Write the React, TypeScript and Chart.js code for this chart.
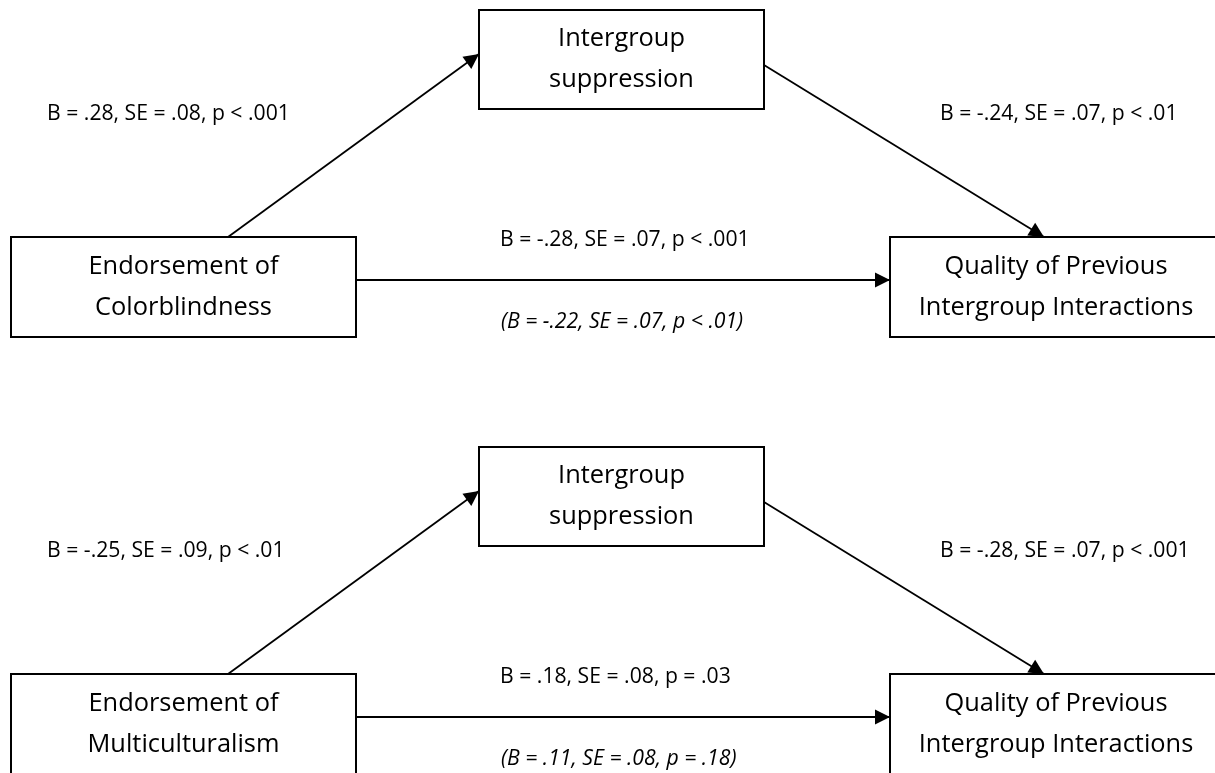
import React, { useEffect, useRef } from "react";
import { Chart, registerables } from "chart.js";

Chart.register(...registerables);

// ---- Diagram content (two mediation models) ----
const predictorNames = [
  ["Endorsement of", "Colorblindness"],
  ["Endorsement of", "Multiculturalism"],
];
const mediatorNames = [
  ["Intergroup", "suppression"],
  ["Intergroup", "suppression"],
];
const outcomeNames = [
  ["Quality of Previous", "Intergroup Interactions"],
  ["Quality of Previous", "Intergroup Interactions"],
];
const pathALabels = ["B = .28, SE = .08, p < .001", "B = -.25, SE = .09, p < .01"];
const pathBLabels = ["B = -.24, SE = .07, p < .01", "B = -.28, SE = .07, p < .001"];
const pathCLabels = ["B = -.28, SE = .07, p < .001", "B = .18, SE = .08, p = .03"];
const pathCPrimeLabels = ["(B = -.22, SE = .07, p < .01)", "(B = .11, SE = .08, p = .18)"];

// ---- Layout (diagram units, mapped through the chart scales) ----
const VIEW_W = 1215;
const VIEW_H = 773;
const panelOffset = [0, 437];
const boxPredictor = { x0: 11, x1: 356, y0: 237, y1: 337 };
const boxMediator = { x0: 479, x1: 764, y0: 10, y1: 109 };
const boxOutcome = { x0: 890, x1: 1222, y0: 237, y1: 337 };
const edgeA = { from: [228, 237], to: [479, 54] };
const edgeB = { from: [764, 65], to: [1044, 237] };
const edgeC = { from: [356, 280], to: [890, 280] };
const labelA = [47, 114];
const labelB = [940, 114];
const labelC = [500, 240];
const labelCPrime = [501, 322];

const FONT = '"Open Sans", "Noto Sans", sans-serif';
const BOX_FONT_SIZE = 25.4;
const LABEL_FONT_SIZE = 21.2;
const LINE_GAP = 20.5;

function rectPoints(b: { x0: number; x1: number; y0: number; y1: number }, dy: number) {
  return [
    { x: b.x0, y: b.y0 + dy },
    { x: b.x1, y: b.y0 + dy },
    { x: b.x1, y: b.y1 + dy },
    { x: b.x0, y: b.y1 + dy },
    { x: b.x0, y: b.y0 + dy },
    { x: b.x1, y: b.y0 + dy },
  ];
}

export default function App() {
  const ref = useRef<HTMLCanvasElement>(null);

  useEffect(() => {
    document.body.style.margin = "0";
    const canvas = ref.current;
    if (!canvas) return;

    const datasets: any[] = [];
    const arrows: { from: number[]; to: number[] }[] = [];
    const texts: { x: number; y: number; text: string; size: number; align: CanvasTextAlign; italic?: boolean }[] = [];

    panelOffset.forEach((dy, p) => {
      [boxPredictor, boxMediator, boxOutcome].forEach((b) => {
        datasets.push({
          type: "line",
          data: rectPoints(b, dy),
          borderColor: "#000",
          borderWidth: 2,
          borderJoinStyle: "miter",
          borderCapStyle: "square",
          pointRadius: 0,
          fill: false,
          tension: 0,
          clip: false,
        });
      });
      [edgeA, edgeB, edgeC].forEach((e) => {
        const from = [e.from[0], e.from[1] + dy];
        const to = [e.to[0], e.to[1] + dy];
        datasets.push({
          type: "line",
          data: [
            { x: from[0], y: from[1] },
            { x: to[0], y: to[1] },
          ],
          borderColor: "#000",
          borderWidth: 1.8,
          pointRadius: 0,
          fill: false,
          clip: false,
        });
        arrows.push({ from, to });
      });
      const boxes = [
        [boxPredictor, predictorNames[p]],
        [boxMediator, mediatorNames[p]],
        [boxOutcome, outcomeNames[p]],
      ] as const;
      boxes.forEach(([b, lines]) => {
        const cx = (b.x0 + b.x1) / 2;
        const cy = (b.y0 + b.y1) / 2 + dy;
        texts.push({ x: cx, y: cy - LINE_GAP, text: lines[0], size: BOX_FONT_SIZE, align: "center" });
        texts.push({ x: cx, y: cy + LINE_GAP, text: lines[1], size: BOX_FONT_SIZE, align: "center" });
      });
      texts.push({ x: labelA[0], y: labelA[1] + dy, text: pathALabels[p], size: LABEL_FONT_SIZE, align: "left" });
      texts.push({ x: labelB[0], y: labelB[1] + dy, text: pathBLabels[p], size: LABEL_FONT_SIZE, align: "left" });
      texts.push({ x: labelC[0], y: labelC[1] + dy, text: pathCLabels[p], size: LABEL_FONT_SIZE, align: "left" });
      texts.push({
        x: labelCPrime[0],
        y: labelCPrime[1] + dy,
        text: pathCPrimeLabels[p],
        size: LABEL_FONT_SIZE,
        align: "left",
        italic: true,
      });
    });

    const diagramPlugin = {
      id: "diagram",
      afterDatasetsDraw(chart: any) {
        const { ctx, scales } = chart;
        const sx = scales.x;
        const sy = scales.y;
        ctx.save();
        ctx.fillStyle = "#000";
        arrows.forEach((a) => {
          const x1 = sx.getPixelForValue(a.from[0]);
          const y1 = sy.getPixelForValue(a.from[1]);
          const x2 = sx.getPixelForValue(a.to[0]);
          const y2 = sy.getPixelForValue(a.to[1]);
          const ang = Math.atan2(y2 - y1, x2 - x1);
          const len = 15;
          const half = 7.5;
          const bx = x2 - len * Math.cos(ang);
          const by = y2 - len * Math.sin(ang);
          ctx.beginPath();
          ctx.moveTo(x2, y2);
          ctx.lineTo(bx + half * Math.sin(ang), by - half * Math.cos(ang));
          ctx.lineTo(bx - half * Math.sin(ang), by + half * Math.cos(ang));
          ctx.closePath();
          ctx.fill();
        });
        ctx.textBaseline = "middle";
        texts.forEach((t) => {
          ctx.font = `${t.italic ? "italic " : ""}${t.size}px ${FONT}`;
          ctx.textAlign = t.align;
          ctx.fillText(t.text, sx.getPixelForValue(t.x), sy.getPixelForValue(t.y));
        });
        ctx.restore();
      },
    };

    const chart = new Chart(canvas, {
      type: "scatter",
      data: { datasets },
      options: {
        animation: false,
        responsive: true,
        maintainAspectRatio: false,
        layout: { padding: 0 },
        plugins: { legend: { display: false }, tooltip: { enabled: false } },
        events: [],
        scales: {
          x: { type: "linear", min: 0, max: VIEW_W, display: false },
          y: { type: "linear", min: 0, max: VIEW_H, reverse: true, display: false },
        },
      },
      plugins: [diagramPlugin],
    });
    return () => chart.destroy();
  }, []);

  return (
    <div style={{ position: "relative", width: VIEW_W, height: VIEW_H, background: "#fff" }}>
      <canvas ref={ref} />
    </div>
  );
}
